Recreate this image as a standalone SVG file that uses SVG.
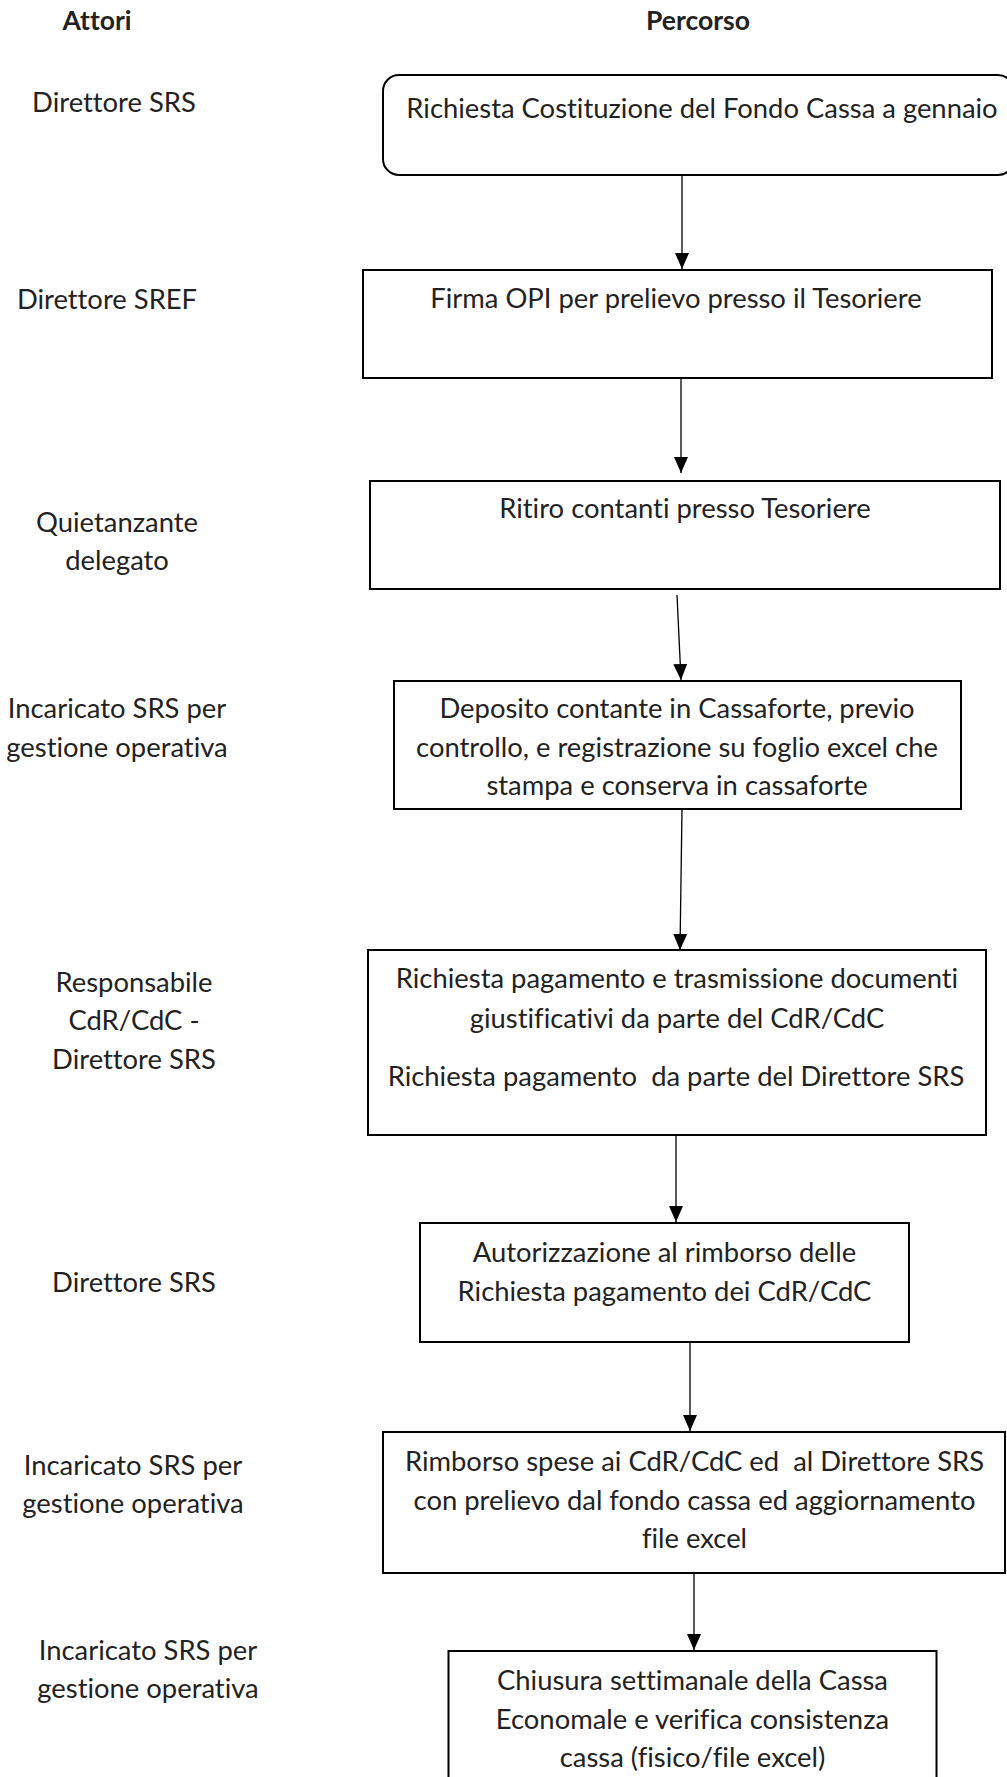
<svg xmlns="http://www.w3.org/2000/svg" width="1007" height="1777" viewBox="0 0 1007 1777">
  <style>
    text { font-family: "Lato", "Open Sans", "Liberation Sans", sans-serif; font-size: 27.4px; fill: #222; text-anchor: middle; font-variant-ligatures: none; font-feature-settings: "liga" 0, "clig" 0; }
    .title { font-weight: bold; font-size: 26.5px; }
    .box { fill: #fff; stroke: #000; stroke-width: 2; }
    .edge { fill: none; stroke: #000; stroke-width: 1.3; marker-end: url(#arrow); }
  </style>
  <defs>
    <marker id="arrow" markerUnits="userSpaceOnUse" markerWidth="16" markerHeight="16" viewBox="0 0 16 14" refX="16" refY="7" orient="auto">
      <path d="M0,0 L16,7 L0,14 Z" fill="#000"/>
    </marker>
    <clipPath id="clip-deposito">
      <rect x="394" y="681" width="567" height="120"/>
    </clipPath>
  </defs>

  <rect x="0" y="0" width="1007" height="1777" fill="#fff"/>

  <!-- column headings -->
  <g id="headings">
    <text class="title" x="97" y="30">Attori</text>
    <text class="title" x="698" y="30">Percorso</text>
  </g>

  <!-- actors column -->
  <g id="actors">
    <text x="114" y="112">Direttore SRS</text>
    <text x="107" y="309">Direttore SREF</text>
    <text x="117" y="532">Quietanzante</text>
    <text x="117" y="570">delegato</text>
    <text x="117" y="718">Incaricato SRS per</text>
    <text x="117" y="757">gestione operativa</text>
    <text x="134" y="992">Responsabile</text>
    <text x="134" y="1030">CdR/CdC -</text>
    <text x="134" y="1069">Direttore SRS</text>
    <text x="134" y="1292">Direttore SRS</text>
    <text x="133" y="1475">Incaricato SRS per</text>
    <text x="133" y="1513">gestione operativa</text>
    <text x="148" y="1660">Incaricato SRS per</text>
    <text x="148" y="1698">gestione operativa</text>
  </g>

  <!-- connectors -->
  <g id="connectors">
    <line class="edge" x1="682" y1="175" x2="682" y2="269"/>
    <line class="edge" x1="681" y1="378" x2="681" y2="473"/>
    <line class="edge" x1="677" y1="595" x2="681" y2="680"/>
    <line class="edge" x1="682" y1="809" x2="680" y2="950"/>
    <line class="edge" x1="676" y1="1135" x2="676" y2="1222"/>
    <line class="edge" x1="690" y1="1342" x2="690" y2="1431"/>
    <line class="edge" x1="694" y1="1573" x2="694" y2="1650"/>
  </g>

  <g id="step-richiesta-costituzione">
    <rect class="box" x="383" y="75" width="631" height="100" rx="16"/>
    <text x="702" y="118">Richiesta Costituzione del Fondo Cassa a gennaio</text>
  </g>

  <g id="step-firma-opi">
    <rect class="box" x="363" y="270" width="629" height="108"/>
    <text x="676" y="308">Firma OPI per prelievo presso il Tesoriere</text>
  </g>

  <g id="step-ritiro-contanti">
    <rect class="box" x="370" y="481" width="630" height="108"/>
    <text x="685" y="518">Ritiro contanti presso Tesoriere</text>
  </g>

  <g id="step-deposito">
    <rect class="box" x="394" y="681" width="567" height="128"/>
    <text x="677" y="718">Deposito contante in Cassaforte, previo</text>
    <text x="677" y="756.5">controllo, e registrazione su foglio excel che</text>
    <text x="677" y="795" clip-path="url(#clip-deposito)">stampa e conserva in cassaforte</text>
  </g>

  <g id="step-richiesta-pagamento">
    <rect class="box" x="368" y="950" width="618" height="185"/>
    <text x="677" y="988">Richiesta pagamento e trasmissione documenti</text>
    <text x="677" y="1027.5">giustificativi da parte del CdR/CdC</text>
    <text x="676" y="1086" xml:space="preserve">Richiesta pagamento  da parte del Direttore SRS</text>
  </g>

  <g id="step-autorizzazione">
    <rect class="box" x="420" y="1223" width="489" height="119"/>
    <text x="664.5" y="1262">Autorizzazione al rimborso delle</text>
    <text x="664.5" y="1300.5">Richiesta pagamento dei CdR/CdC</text>
  </g>

  <g id="step-rimborso">
    <rect class="box" x="383" y="1432" width="622" height="141"/>
    <text x="694.5" y="1471" xml:space="preserve">Rimborso spese ai CdR/CdC ed  al Direttore SRS</text>
    <text x="694.5" y="1509.5">con prelievo dal fondo cassa ed aggiornamento</text>
    <text x="694.5" y="1548">file excel</text>
  </g>

  <g id="step-chiusura">
    <rect class="box" x="448.5" y="1651" width="488" height="140"/>
    <text x="692.5" y="1690">Chiusura settimanale della Cassa</text>
    <text x="692.5" y="1728.5">Economale e verifica consistenza</text>
    <text x="692.5" y="1767">cassa (fisico/file excel)</text>
  </g>
</svg>
